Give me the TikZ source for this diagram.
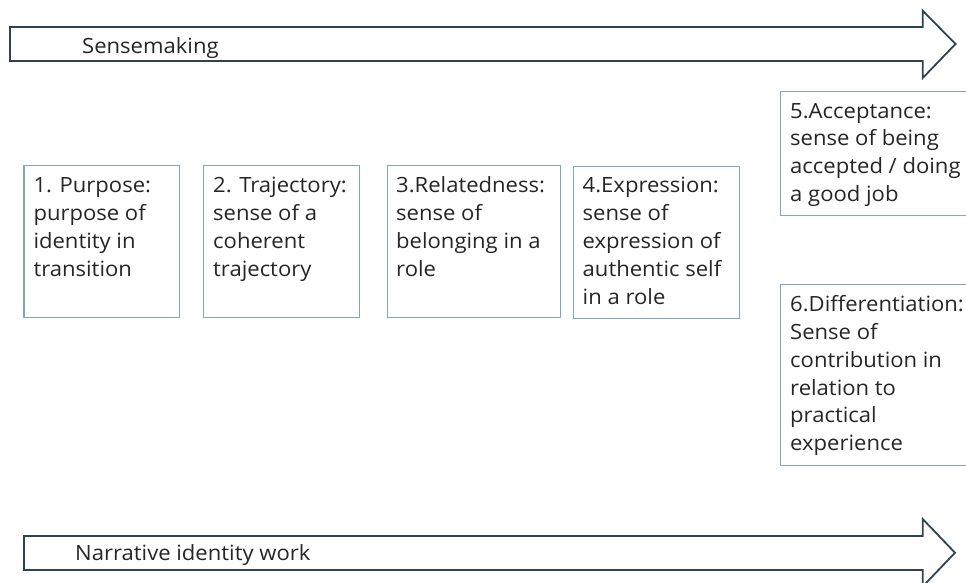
\documentclass[tikz,border=0pt]{standalone}
\usepackage{fontspec}
\setmainfont[FakeStretch=1.05]{Open Sans}
\usetikzlibrary{positioning}
\definecolor{boxline}{HTML}{7FA7C0}
\definecolor{arrline}{HTML}{2E4452}
\definecolor{txtcol}{HTML}{262626}
\tikzset{
  idbox/.style={draw=boxline, line width=1.3pt, fill=white, anchor=north west, inner sep=0pt},
  idtxt/.style={anchor=north west, inner sep=0pt, align=left, text=txtcol,
    font=\fontsize{21}{27.8}\selectfont},
  arrbody/.style={draw=arrline, line width=1.8pt, fill=white, line join=miter},
  arrtxt/.style={anchor=base west, inner sep=0pt, text=txtcol,
    font=\fontsize{21}{27.8}\selectfont},
}
\begin{document}
\begin{tikzpicture}[x=1pt,y=-1pt]
\clip (0,0) rectangle (966,582);
\fill[white] (0,0) rectangle (966,582);

% top arrow
\draw[arrbody] (10,27) -- (922.7,27) -- (922.7,10.7) -- (955.5,44) -- (922.7,78) -- (922.7,61) -- (10,61) -- cycle;
\node[arrtxt] (sense) at (82,53) {Sensemaking};

% bottom arrow
\draw[arrbody] (24,536) -- (922.7,536) -- (922.7,519) -- (955,552.7) -- (922.7,586.5) -- (922.7,570) -- (24,570) -- cycle;
\node[arrtxt] (narr) at (75,560) {Narrative identity work};

% boxes
\node[idbox, minimum width=155.7pt, minimum height=152pt] (b1) at (23.3,165) {};
\node[idtxt] (t1) at (33.3,173.2) {\strut1. Purpose:\\purpose of\\identity in\\transition};

\node[idbox, minimum width=156pt, minimum height=152pt] (b2) at (203,165) {};
\node[idtxt] (t2) at (213,173.2) {\strut2. Trajectory:\\sense of a\\coherent\\trajectory};

\node[idbox, minimum width=173.3pt, minimum height=152pt] (b3) at (386.7,165) {};
\node[idtxt] (t3) at (396,173.2) {\strut3.Relatedness:\\sense of\\belonging in a\\role};

\node[idbox, minimum width=166.3pt, minimum height=152.3pt] (b4) at (572.7,165.7) {};
\node[idtxt] (t4) at (582.5,173.2) {\strut4.Expression:\\sense of\\expression of\\authentic self\\in a role};

\node[idbox, minimum width=200pt, minimum height=124pt] (b5) at (780,91) {};
\node[idtxt] (t5) at (790,98.5) {\strut5.Acceptance:\\sense of being\\accepted / doing\\a good job};

\node[idbox, minimum width=200pt, minimum height=181pt] (b6) at (780,284) {};
\node[idtxt] (t6) at (790,292) {\strut6.Differentiation:\\Sense of\\contribution in\\relation to\\practical\\experience};
\end{tikzpicture}
\end{document}
